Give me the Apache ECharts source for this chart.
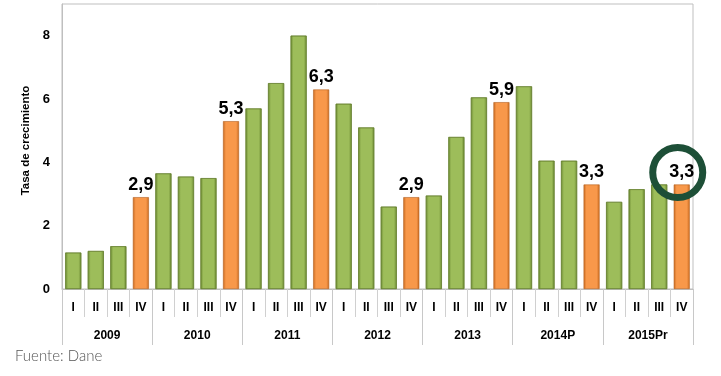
<!DOCTYPE html>
<html>
<head>
<meta charset="utf-8">
<script src="https://cdn.jsdelivr.net/npm/echarts@6/dist/echarts.min.js"></script>
<style>
  html, body { margin: 0; padding: 0; background: #fff; }
  #chart { width: 721px; height: 376px; }
</style>
</head>
<body>
<div id="chart"></div>
<script>
// trimestres y años
var quarters = ['I', 'II', 'III', 'IV', 'I', 'II', 'III', 'IV', 'I', 'II', 'III', 'IV', 'I', 'II', 'III', 'IV',
                'I', 'II', 'III', 'IV', 'I', 'II', 'III', 'IV', 'I', 'II', 'III', 'IV'];
var years = ['2009', '2010', '2011', '2012', '2013', '2014P', '2015Pr'];
// tasa de crecimiento por trimestre
var growth = [1.15, 1.2, 1.35, 2.9,
              3.65, 3.55, 3.5, 5.3,
              5.7, 6.5, 8.0, 6.3,
              5.85, 5.1, 2.6, 2.9,
              2.95, 4.8, 6.05, 5.9,
              6.4, 4.05, 4.05, 3.3,
              2.75, 3.15, 3.3, 3.3];
var yTicks = [0, 2, 4, 6, 8];

function barColor(dark, light) {
  return new echarts.graphic.LinearGradient(0, 0, 1, 0, [
    { offset: 0, color: dark },
    { offset: 0.18, color: light },
    { offset: 0.82, color: light },
    { offset: 1, color: dark }
  ]);
}
var greenFill = barColor('#6e8c34', '#9dbd5a');
var orangeFill = barColor('#c8691f', '#f8984a');

var seriesData = [];
for (var i = 0; i < growth.length; i++) {
  var isQ4 = (i % 4 == 3);
  seriesData.push({
    value: growth[i],
    itemStyle: {
      color: isQ4 ? orangeFill : greenFill,
      borderColor: isQ4 ? '#b4601e' : '#64802e',
      borderWidth: 0.6
    },
    label: { show: isQ4 }
  });
}

var fuente = {
  type: 'text', left: 15, top: 349,
  style: { text: 'Fuente: Dane', fontFamily: 'Lato', fontWeight: 300, fontSize: 15, fill: '#555' }
};

var myChart = echarts.init(document.getElementById('chart'));
var option = {
  animation: false,
  grid: {
    left: 62, right: 28, top: 4, bottom: 87,
    show: true, borderColor: '#bfbfbf', borderWidth: 1
  },
  xAxis: [
    {
      type: 'category',
      data: quarters,
      position: 'bottom',
      axisLine: { show: true, lineStyle: { color: '#bfbfbf' } },
      axisTick: { show: true, interval: 0, length: 28, lineStyle: { color: '#d0d0d0' } },
      axisLabel: {
        interval: 0, margin: 13,
        fontFamily: 'Liberation Sans', fontWeight: 'bold', fontSize: 12, color: '#000'
      }
    },
    {
      type: 'category',
      data: years,
      position: 'bottom',
      axisLine: { show: false },
      axisTick: { show: true, interval: 0, length: 56, lineStyle: { color: '#c8c8c8' } },
      axisLabel: {
        interval: 0, margin: 41,
        fontFamily: 'Liberation Sans', fontWeight: 'bold', fontSize: 12, color: '#000'
      }
    }
  ],
  yAxis: {
    type: 'value',
    min: yTicks[0], max: 9, interval: 2,
    name: 'Tasa de crecimiento',
    nameLocation: 'middle',
    nameGap: 23,
    nameTextStyle: {
      fontFamily: 'Liberation Sans', fontWeight: 'bold', fontSize: 11.5, color: '#000',
      padding: [0, 0, 0, 12]
    },
    splitLine: { show: false },
    axisTick: { show: false },
    axisLine: { show: true, lineStyle: { color: '#bfbfbf' } },
    axisLabel: {
      margin: 12, showMaxLabel: false,
      fontFamily: 'Liberation Sans', fontWeight: 'bold', fontSize: 13, color: '#000',
      formatter: function (v) { return yTicks.indexOf(v) >= 0 ? String(v) : ''; }
    }
  },
  series: [{
    type: 'bar',
    xAxisIndex: 0,
    data: seriesData,
    barCategoryGap: '29%',
    label: {
      position: 'top', distance: 3,
      fontFamily: 'Liberation Sans', fontWeight: 'bold', fontSize: 18, color: '#000',
      formatter: function (p) { return p.value.toFixed(1).replace('.', ','); }
    }
  }],
  graphic: [fuente]
};
myChart.setOption(option);

// circulo que resalta el último trimestre
var last = growth.length - 1;
var pt = myChart.convertToPixel({ xAxisIndex: 0, yAxisIndex: 0 }, [last, growth[last]]);
myChart.setOption({
  graphic: [fuente, {
    type: 'circle', z: 100,
    shape: { cx: pt[0] - 4, cy: pt[1] - 12, r: 25 },
    style: { fill: 'none', stroke: '#1d4f37', lineWidth: 7 }
  }]
});
</script>
</body>
</html>
